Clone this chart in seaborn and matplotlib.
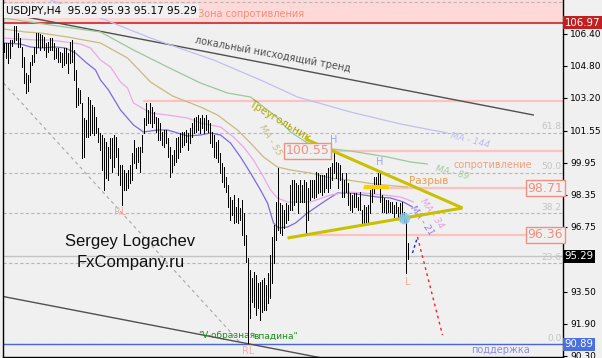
import numpy as np
import pandas as pd
import seaborn as sns
import matplotlib.pyplot as plt

# ---- H4 bars (high / low) ----
bar_high = [105.95, 105.95, 105.95, 106.10, 106.10, 106.80, 106.80, 106.45, 106.20, 105.75,
            105.25, 104.45, 104.35, 105.00, 105.35, 105.75, 106.45, 106.45, 106.40, 106.35,
            106.25, 105.95, 106.00, 106.20, 106.20, 105.95, 105.70, 105.70, 105.50, 105.45,
            105.70, 105.70, 105.45, 106.00, 106.10, 105.60, 104.60, 103.70, 103.60, 102.95,
            102.20, 102.10, 103.25, 103.10, 102.85, 102.75, 102.25, 101.70, 101.45, 101.35,
            101.20, 101.00, 100.75, 101.20, 101.20, 101.35, 101.25, 100.70, 99.85, 99.85,
            99.60, 99.45, 99.60, 99.85, 100.45, 101.10, 100.70, 100.75, 100.75, 101.35,
            102.20, 102.95, 102.60, 102.95, 102.75, 102.50, 102.25, 102.20, 101.95, 101.50,
            101.60, 101.60, 101.20, 100.75, 100.35, 100.60, 101.20, 101.25, 101.45, 101.50,
            101.50, 101.60, 101.45, 101.70, 101.95, 102.20, 102.25, 102.35, 102.20, 102.35,
            102.20, 102.35, 102.10, 101.95, 101.50, 101.35, 101.00, 101.10, 100.45, 99.95,
            99.75, 99.25, 98.85, 98.25, 98.10, 98.35, 97.75, 98.20, 97.70, 98.10,
            97.45, 96.35, 95.20, 94.60, 94.20, 94.50, 94.35, 93.95, 94.00, 94.10,
            94.20, 93.85, 94.45, 95.35, 96.25, 96.85, 98.00, 99.70, 97.95, 97.85,
            97.60, 97.95, 97.85, 98.85, 99.10, 99.10, 98.95, 98.85, 99.10, 98.85,
            99.10, 99.00, 98.70, 99.10, 99.10, 99.10, 99.50, 99.45, 99.35, 99.35,
            99.35, 99.45, 99.70, 99.75, 99.95, 100.45, 100.00, 99.95, 99.85, 99.45,
            99.10, 99.45, 98.95, 98.45, 98.35, 98.45, 98.45, 98.25, 98.50, 97.60,
            97.85, 97.75, 97.85, 98.60, 98.85, 99.25, 99.25, 99.45, 99.50, 98.35,
            98.20, 98.10, 98.10, 98.00, 98.00, 97.85, 98.00, 97.75, 97.95, 98.00,
            97.50, 97.20, 95.93]
bar_low = [105.50, 105.20, 104.95, 105.20, 105.80, 106.00, 106.10, 105.75, 105.75, 104.75,
           103.95, 103.45, 103.55, 104.00, 104.85, 105.00, 105.45, 105.75, 105.60, 105.75,
           105.60, 105.25, 105.50, 105.60, 105.60, 105.15, 105.20, 105.00, 105.00, 104.75,
           104.85, 104.95, 104.45, 104.95, 105.00, 104.10, 102.75, 102.85, 102.95, 100.20,
           100.25, 101.25, 101.25, 101.35, 101.45, 101.35, 101.45, 101.00, 100.60, 99.60,
           98.60, 99.20, 99.10, 100.20, 99.50, 99.75, 100.25, 99.35, 98.85, 97.85,
           98.60, 98.60, 98.70, 98.95, 99.10, 99.95, 99.70, 100.00, 99.50, 100.50,
           101.45, 101.85, 101.95, 101.95, 101.75, 101.95, 101.50, 101.10, 101.10, 100.85,
           100.75, 100.95, 100.25, 99.25, 99.50, 99.85, 100.00, 100.20, 100.50, 100.75,
           100.85, 101.00, 100.60, 100.95, 101.25, 101.45, 101.50, 101.60, 101.45, 101.70,
           101.45, 101.60, 101.50, 100.95, 100.75, 100.25, 100.20, 100.00, 99.45, 99.00,
           98.75, 98.50, 97.75, 97.10, 97.35, 96.95, 97.00, 96.95, 97.10, 96.35,
           95.85, 95.00, 90.95, 92.20, 93.00, 92.75, 92.35, 92.70, 92.10, 92.50,
           92.60, 92.60, 92.95, 93.20, 93.95, 94.95, 96.10, 96.60, 96.45, 96.35,
           96.70, 96.95, 97.10, 97.60, 97.60, 97.85, 98.00, 97.45, 98.00, 98.00,
           98.00, 96.45, 97.10, 98.10, 98.25, 98.20, 98.25, 98.45, 98.50, 98.35,
           98.50, 98.70, 98.50, 98.70, 99.10, 99.45, 99.20, 98.70, 99.10, 98.25,
           98.25, 98.50, 97.85, 97.60, 97.50, 97.75, 97.75, 97.60, 97.60, 96.85,
           96.85, 96.95, 96.95, 97.45, 98.00, 98.45, 98.70, 98.70, 98.00, 97.50,
           97.50, 97.45, 97.50, 97.50, 97.45, 97.25, 97.45, 97.25, 97.10, 97.20,
           97.00, 94.45, 95.17]

# ---- moving averages (bar index, price) ----
ma21_x = [0, 8.5, 13.5, 18.5, 26, 31, 36, 41, 46, 48.5, 52.5, 58.5, 65, 70, 77, 82, 87, 92,
          98.5, 103.5, 108.5, 113.5, 118.5, 123.5, 128.5, 132, 135, 137.5, 142, 146, 152,
          160, 167, 173.5, 180, 187, 193.5, 200, 204.5]
ma21_y = [105.95, 105.9, 105.75, 105.7, 105.75, 105.7, 105.45, 105.0, 104.6, 104.1, 103.6,
          102.6, 101.85, 101.5, 101.6, 101.6, 101.45, 101.3, 101.35, 101.45, 101.35, 100.95,
          100.25, 99.45, 98.6, 97.95, 96.95, 96.7, 96.75, 96.95, 97.45, 98.0, 98.45, 98.45,
          98.35, 98.25, 98.2, 98.0, 97.75]
ma34_x = [0, 8.5, 16, 23.5, 31, 38.5, 43.5, 48.5, 53.5, 58.5, 62, 65, 73.5, 82, 92, 98.5,
          103.5, 108.5, 115, 120, 125, 130, 133.5, 137, 142, 148.5, 153.5, 163.5, 172, 180,
          190, 198.5, 205]
ma34_y = [106.2, 106.15, 106.1, 106.1, 106.0, 105.9, 105.7, 105.1, 104.75, 104.0, 103.7,
          102.95, 102.45, 102.35, 102.2, 101.95, 101.85, 101.75, 101.25, 100.75, 100.1, 99.25,
          98.6, 98.2, 98.0, 98.0, 98.0, 98.35, 98.5, 98.45, 98.35, 98.25, 98.0]
ma55_x = [0, 11, 18.5, 32, 48.5, 62, 73.5, 84.5, 98.5, 107, 117, 123.5, 130, 137, 143.5,
          153.5, 163.5, 172, 182, 190, 202]
ma55_y = [106.65, 106.5, 106.45, 106.25, 105.95, 105.2, 104.0, 103.3, 102.75, 102.35, 101.6,
          100.95, 100.25, 99.75, 99.6, 99.45, 99.2, 99.1, 98.95, 98.85, 98.75]
ma89_x = [0, 23.5, 48.5, 65, 82, 98.5, 112, 123.5, 132, 137, 143.5, 152, 160, 173.5, 192,
          203.5, 212]
ma89_y = [107.2, 106.85, 106.5, 105.6, 104.75, 103.95, 103.45, 103.25, 102.6, 102.2, 101.5,
          100.95, 100.7, 100.55, 100.25, 100.0, 99.9]
ma144_x = [23.5, 48.5, 73.5, 105, 128.5, 147, 173.5, 198.5, 222]
ma144_y = [108.1, 107.2, 106.2, 105.1, 104.1, 103.25, 102.5, 101.9, 101.45]

# ---- levels and drawn objects ----
zone_top = 106.97
support = 90.89
last_price = 95.29
res_levels = [103.05, 100.55, 98.71, 96.36]
res_start = [70, 142, 180, 150]
fib_levels = [90.89, 94.93, 97.43, 99.45, 101.46, 108.00]
fib_names = ["0.0", "23.6", "38.2", "50.0", "61.8", ""]
price_ticks = [106.40, 104.80, 103.20, 101.55, 99.95, 98.35, 96.75, 95.15, 93.50, 91.90, 90.30]
chan_up_x, chan_up_y = [-1.5, 265], [107.5, 102.35]
chan_dn_x, chan_dn_y = [-1.5, 180], [93.3, 89.8]
diag_x, diag_y = [0, 118.5], [103.95, 90.95]
tri_up_x, tri_up_y = [151, 229.5], [101.15, 97.7]
tri_dn_x, tri_dn_y = [142, 229.5], [96.2, 97.7]
gap_x, gap_y = [180, 192.5], [98.75, 98.75]
fc_blue_x, fc_blue_y = [204.5, 207], [95.45, 96.25]
fc_red_x, fc_red_y = [207, 219.5], [96.25, 91.35]

BG = "#f0f0f0"
sns.set_theme(style="white", rc={"axes.facecolor": BG, "figure.facecolor": BG})
plt.rcParams["font.family"] = ["DejaVu Sans"]


def px(x, y):
    # pixel position on the 602x358 picture -> data coords
    return (x - 3) / 2, 108.1 - 0.05 * y


fig = plt.figure(figsize=(6.02, 3.58), dpi=100)
ax = fig.add_axes([2.5 / 602, 1 / 358, 560.5 / 602, 357 / 358])
ax.set_xlim(-0.5, 279.75)
ax.set_ylim(90.25, 108.1)

# resistance zone at the top
ax.axhspan(zone_top, 108.1, color="#ffd8d8", zorder=0)
ax.axhline(zone_top, color="#c82828", lw=1.2, zorder=2)

# fibo levels
for lv in fib_levels:
    ax.axhline(lv, color="#b8b8b8", lw=0.8, ls=(0, (3, 2)), zorder=1)
for lv, nm in zip(fib_levels, fib_names):
    if nm:
        ax.text(px(561, 0)[0], lv + 0.08, nm, ha="right", va="bottom", fontsize=6.5,
                color="#c4c4c4")

ax.axhline(last_price, color="#c4c4c4", lw=1, zorder=1)
ax.axhline(support, color="#4866d8", lw=1, zorder=2)

for lv, st in zip(res_levels, res_start):
    ax.plot([st, 280], [lv, lv], color="#ffc0c0", lw=1.6, zorder=1)

# channel and diagonal
sns.lineplot(x=chan_up_x, y=chan_up_y, color="#505050", lw=1, ax=ax)
sns.lineplot(x=chan_dn_x, y=chan_dn_y, color="#505050", lw=1, ax=ax)
ax.plot(diag_x, diag_y, color="#a8a8a8", lw=0.8, ls=(0, (3, 3)), zorder=1)

# moving averages
ma_df = pd.concat([
    pd.DataFrame({"bar": ma21_x, "price": ma21_y, "ma": "MA-21"}),
    pd.DataFrame({"bar": ma34_x, "price": ma34_y, "ma": "MA-34"}),
    pd.DataFrame({"bar": ma55_x, "price": ma55_y, "ma": "MA-55"}),
    pd.DataFrame({"bar": ma89_x, "price": ma89_y, "ma": "MA-89"}),
    pd.DataFrame({"bar": ma144_x, "price": ma144_y, "ma": "MA-144"}),
])
ma_pal = {"MA-21": "#8068e0", "MA-34": "#eaa8ea", "MA-55": "#c8ba80",
          "MA-89": "#9cc89c", "MA-144": "#c0c0ee"}
sns.lineplot(data=ma_df, x="bar", y="price", hue="ma", palette=ma_pal, estimator=None,
             sort=False, legend=False, lw=0.9, ax=ax)
ax.set_xlabel("")
ax.set_ylabel("")

# bars, one pixel wide
idx = np.arange(len(bar_high))
ax.vlines(idx, bar_low, bar_high, color="black", lw=0.66, zorder=4, antialiased=False)

# triangle, gap, forecast
ax.plot(tri_up_x, tri_up_y, color="#c8c000", lw=2.2, zorder=5, solid_capstyle="butt")
ax.plot(tri_dn_x, tri_dn_y, color="#c8c000", lw=2.2, zorder=5, solid_capstyle="butt")
ax.plot(gap_x, gap_y, color="#ffd000", lw=3, zorder=5, solid_capstyle="butt")
ax.plot(fc_blue_x, fc_blue_y, color="#2020e0", lw=1, ls=(0, (2, 2)), zorder=5)
ax.plot(fc_red_x, fc_red_y, color="#ff2020", lw=1, ls=(0, (2, 2.5)), zorder=5)
ax.scatter([200], [97.2], s=70, color="#80c8f0", alpha=0.85, zorder=6, lw=0)

# texts
def txt(x, y, s, **kw):
    ax.text(*px(x, y), s, **kw)

txt(6, 11, "USDJPY,H4  95.92 95.93 95.17 95.29", fontsize=7.5, color="black", ha="left",
    va="center", bbox=dict(facecolor=BG, edgecolor="none", pad=1.5), zorder=8)
txt(251, 14, "Зона сопротивления", fontsize=7, color="#f09078", ha="center", va="center")
txt(272, 55, "локальный нисходящий тренд", fontsize=7, color="#505050", ha="center",
    va="center", rotation=-10.5, rotation_mode="anchor")
txt(279, 121, "Треугольник", fontsize=7.5, color="#b0a400", ha="center", va="center",
    rotation=-31, rotation_mode="anchor")
txt(270, 140, "MA - 55", fontsize=6.5, color="#c8bc80", ha="center", va="center",
    rotation=-58, rotation_mode="anchor", style="italic")
txt(452, 173, "MA - 89", fontsize=6.5, color="#a4cca4", ha="center", va="center",
    rotation=-14, rotation_mode="anchor", style="italic")
txt(470, 140, "MA - 144", fontsize=6.5, color="#bcbcec", ha="center", va="center",
    rotation=-14, rotation_mode="anchor", style="italic")
txt(431, 214, "MA - 34", fontsize=6.5, color="#e4a4e4", ha="center", va="center",
    rotation=-55, rotation_mode="anchor", style="italic")
txt(421, 221, "MA - 21", fontsize=6.5, color="#9080e8", ha="center", va="center",
    rotation=-55, rotation_mode="anchor", style="italic")
txt(492, 165, "сопротивление", fontsize=7, color="#f0a080", ha="center", va="center")
txt(500, 350, "поддержка", fontsize=7, color="#8c8ce0", ha="center", va="center")
txt(428, 181, "Разрыв", fontsize=7.5, color="#e8a050", ha="center", va="center")
txt(198, 336, "\"V-образная", fontsize=6.5, color="#189018", ha="left", va="center")
txt(253, 336, "впадина\"", fontsize=6.5, color="#189018", ha="left", va="center")
txt(333, 140, "H", fontsize=7, color="#a0a0f0", ha="center", va="center")
txt(379, 162, "H", fontsize=7, color="#a0a0f0", ha="center", va="center")
txt(407, 282, "L", fontsize=7, color="#f0b090", ha="center", va="center")
txt(120, 212, "RL", fontsize=7, color="#f4b0a8", ha="center", va="center")
txt(248, 351, "RL", fontsize=7, color="#f4b0a8", ha="center", va="center")
txt(130, 242, "Sergey Logachev", fontsize=12, color="#101010", ha="center", va="center",
    family=["Liberation Sans"])
txt(130, 263, "FxCompany.ru", fontsize=12, color="#101010", ha="center", va="center",
    family=["Liberation Sans"])

box = dict(boxstyle="square,pad=0.15", facecolor=BG, edgecolor="#f09080", lw=1)
txt(307, 151, "100.55", fontsize=9, color="#f09080", ha="center", va="center", bbox=box, zorder=7)
txt(545, 188, "98.71", fontsize=9, color="#f09080", ha="center", va="center", bbox=box, zorder=7)
txt(545, 235, "96.36", fontsize=9, color="#f09080", ha="center", va="center", bbox=box, zorder=7)

# right price scale (95.15 sits under the last-price box)
ax.yaxis.tick_right()
ax.set_yticks(price_ticks)
ax.set_yticklabels(["" if abs(t - 95.15) < 1e-6 else f"{t:.2f}" for t in price_ticks])
ax.set_xticks([])
ax.tick_params(axis="y", right=True, direction="out", length=3, width=0.8, pad=2,
               labelsize=6.5, colors="black")
for side in ["left", "right", "bottom"]:
    ax.spines[side].set_color("black")
    ax.spines[side].set_linewidth(1)
ax.spines["top"].set_visible(False)

for val, col in [(zone_top, "#c02020"), (last_price, "black"), (support, "#4a70e0")]:
    ax.annotate(f"{val:.2f}", xy=(1.0, val), xycoords=("axes fraction", "data"),
                xytext=(1.2, 0), textcoords="offset points", ha="left", va="center",
                fontsize=7.3, color="white", annotation_clip=False, zorder=9,
                bbox=dict(boxstyle="square,pad=0.15", facecolor=col, edgecolor="none"))

fig.savefig("out.png", dpi=100, facecolor=BG)
